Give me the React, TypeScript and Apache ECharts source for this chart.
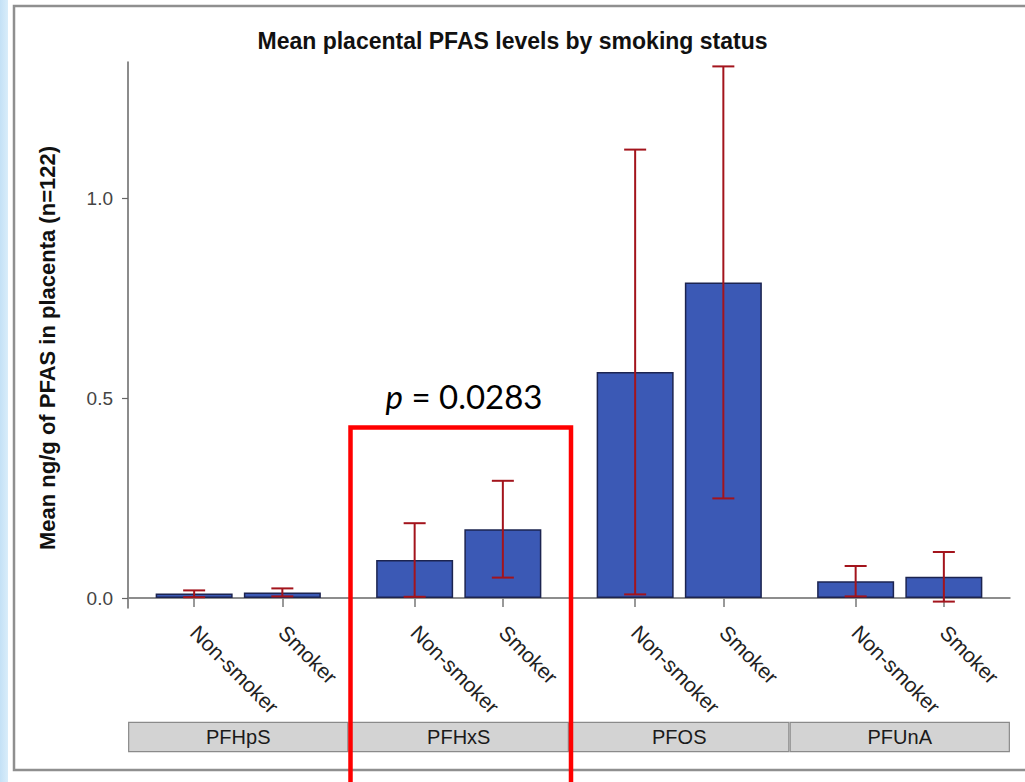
import React, { useEffect, useRef } from 'react';
import * as echarts from 'echarts';

const groups = ['PFHpS', 'PFHxS', 'PFOS', 'PFUnA'];
const statuses = ['Non-smoker', 'Smoker'];

const meanNonSmoker = [0.011, 0.095, 0.565, 0.042];
const meanSmoker = [0.014, 0.172, 0.789, 0.053];
const lowerNonSmoker = [0.002, 0.003, 0.009, 0.004];
const upperNonSmoker = [0.019, 0.187, 1.121, 0.08];
const lowerSmoker = [0.004, 0.051, 0.249, -0.009];
const upperSmoker = [0.024, 0.293, 1.329, 0.115];

const yTicks = [0, 0.5, 1.0];
const titleText = 'Mean placental PFAS levels by smoking status';
const yAxisName = 'Mean ng/g of PFAS in placenta (n=122)';
const pValueText = '0.0283';

const SLOTS_PER_GROUP = 5;
const STATUS_OFFSET = [1, 3];
const FONT = '"Liberation Sans", Arial, Helvetica, sans-serif';

export default function App() {
  const ref = useRef<HTMLDivElement>(null);

  useEffect(() => {
    if (!ref.current) return;
    const chart = echarts.init(ref.current, null, { renderer: 'svg' });

    const means = [meanNonSmoker, meanSmoker];
    const lowers = [lowerNonSmoker, lowerSmoker];
    const uppers = [upperNonSmoker, upperSmoker];

    const categories: string[] = [];
    const barData: (number | string)[] = [];
    const errData: number[][] = [];
    groups.forEach((g, gi) => {
      for (let k = 0; k < SLOTS_PER_GROUP; k++) {
        const si = STATUS_OFFSET.indexOf(k);
        const slot = gi * SLOTS_PER_GROUP + k;
        categories.push(si >= 0 ? statuses[si] : '');
        barData.push(si >= 0 ? means[si][gi] : '-');
        if (si >= 0) errData.push([slot, lowers[si][gi], uppers[si][gi]]);
      }
    });

    const option: any = {
      animation: false,
      backgroundColor: '#ffffff',
      title: {
        text: titleText,
        left: 'center',
        top: 24,
        textStyle: { fontFamily: FONT, fontSize: 23, fontWeight: 'bold', color: '#111' },
      },
      grid: { left: 128, top: 62, right: 15, bottom: 174, containLabel: false },
      xAxis: [
        {
          type: 'category',
          data: categories,
          axisLine: { show: true, lineStyle: { color: '#777', width: 1.5 } },
          axisTick: {
            show: true,
            alignWithLabel: true,
            interval: (i: number, v: string) => v !== '',
            length: 9,
            lineStyle: { color: '#777', width: 1.5 },
          },
          axisLabel: {
            interval: (i: number, v: string) => v !== '',
            rotate: -45,
            margin: 21,
            fontFamily: FONT,
            fontSize: 21,
            color: '#222',
          },
          splitLine: { show: false },
        },
        {
          type: 'category',
          data: groups,
          position: 'bottom',
          axisLine: { show: false },
          axisTick: { show: false },
          axisLabel: {
            interval: 0,
            margin: 115,
            formatter: (v: string) => `{b|${v}}`,
            rich: {
              b: {
                width: 218,
                height: 28,
                lineHeight: 28,
                align: 'center',
                backgroundColor: '#d3d3d3',
                borderColor: '#8a8a8a',
                borderWidth: 1.2,
                fontFamily: FONT,
                fontSize: 20,
                color: '#1a1a1a',
              },
            },
          },
          splitLine: { show: false },
        },
      ],
      yAxis: {
        type: 'value',
        min: -0.025,
        max: 1.34,
        name: yAxisName,
        nameLocation: 'middle',
        nameGap: 70,
        nameTextStyle: {
          fontFamily: FONT,
          fontSize: 22,
          fontWeight: 'bold',
          color: '#111',
          padding: [0, 26, 0, 0],
        },
        axisLine: { show: true, lineStyle: { color: '#666', width: 1.5 } },
        axisTick: { show: true, customValues: yTicks, length: 6, lineStyle: { color: '#666', width: 1.2 } },
        axisLabel: {
          customValues: yTicks,
          formatter: (v: number) => v.toFixed(1),
          margin: 15,
          fontFamily: FONT,
          fontSize: 19,
          color: '#444',
        },
        splitLine: { show: false },
      },
      series: [
        {
          type: 'bar',
          xAxisIndex: 0,
          data: barData,
          barWidth: 77,
          itemStyle: { color: '#3b59b5', borderColor: '#1c2450', borderWidth: 1.5 },
          markLine: {
            silent: true,
            symbol: ['none', 'none'],
            label: { show: false },
            lineStyle: { color: '#8a8a8a', width: 1.5, type: 'solid' },
            data: [{ yAxis: 0 }],
            z: 1,
          },
          z: 2,
        },
        {
          type: 'custom',
          xAxisIndex: 0,
          data: errData,
          encode: { x: 0, y: [1, 2] },
          z: 10,
          renderItem: (params: any, api: any) => {
            const x = api.value(0);
            const lo = api.coord([x, api.value(1)]);
            const hi = api.coord([x, api.value(2)]);
            const cap = 11;
            const style = { stroke: '#a3141c', lineWidth: 2 };
            return {
              type: 'group',
              children: [
                { type: 'line', shape: { x1: lo[0], y1: lo[1], x2: hi[0], y2: hi[1] }, style },
                { type: 'line', shape: { x1: hi[0] - cap, y1: hi[1], x2: hi[0] + cap, y2: hi[1] }, style },
                { type: 'line', shape: { x1: lo[0] - cap, y1: lo[1], x2: lo[0] + cap, y2: lo[1] }, style },
              ],
            };
          },
        },
      ],
      graphic: [
        {
          type: 'rect',
          z: -10,
          shape: { x: 0, y: 0, width: 8, height: 782 },
          style: {
            fill: new echarts.graphic.LinearGradient(0, 0, 1, 0, [
              { offset: 0, color: '#c4e1f6' },
              { offset: 1, color: '#d9edfa' },
            ]),
          },
          silent: true,
        },
        {
          type: 'rect',
          z: 0,
          shape: { x: 14, y: 6, width: 1040, height: 764 },
          style: { fill: 'none', stroke: '#8f8f8f', lineWidth: 2.5 },
          silent: true,
        },
        {
          type: 'text',
          z: 100,
          style: {
            x: 464,
            y: 396,
            text: `{i|p} = ${pValueText}`,
            align: 'center',
            verticalAlign: 'middle',
            fontFamily: 'Lato, "Open Sans", sans-serif',
            fontSize: 33,
            fill: '#000',
            rich: {
              i: { fontStyle: 'italic', fontFamily: 'Lato, "Open Sans", sans-serif', fontSize: 33, fill: '#000' },
            },
          },
          silent: true,
        },
        {
          type: 'rect',
          z: 100,
          shape: { x: 350.5, y: 427.5, width: 220.5, height: 400 },
          style: { fill: 'none', stroke: '#ff0000', lineWidth: 4.5 },
          silent: true,
        },
      ],
    };

    chart.setOption(option);
    return () => chart.dispose();
  }, []);

  return (
    <div
      ref={ref}
      style={{ position: 'fixed', left: 0, top: 0, width: 1025, height: 782, background: '#fff' }}
    />
  );
}
